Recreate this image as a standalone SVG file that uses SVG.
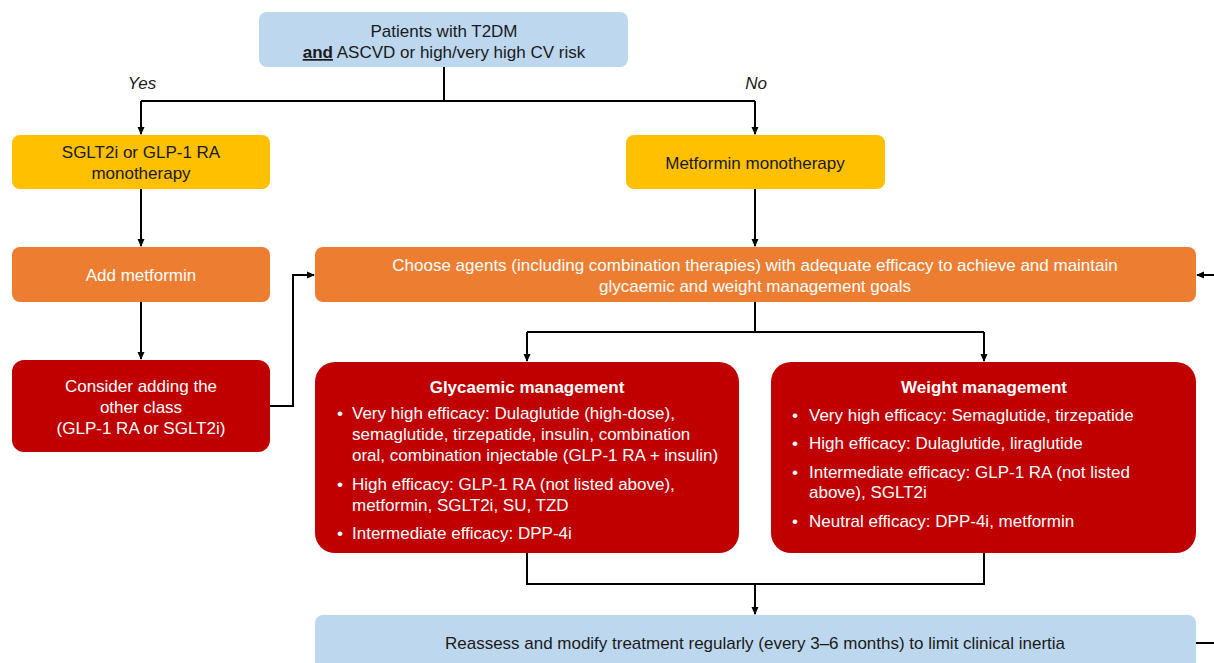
<svg xmlns="http://www.w3.org/2000/svg" width="1214" height="663" viewBox="0 0 1214 663">
<defs>
<marker id="ah" markerWidth="8" markerHeight="8" refX="7" refY="4" orient="auto" markerUnits="userSpaceOnUse">
<path d="M0,0.5 L8,4 L0,7.5 Z" fill="#000"/>
</marker>
<style>
text{font-family:"Liberation Sans",Arial,sans-serif;font-size:17px}
.c{text-anchor:middle}
.w{fill:#fff}
.k{fill:#1a1a1a}
.b{font-weight:bold}
.blue{fill:#BDD7EE}
.yel{fill:#FFC000}
.org{fill:#ED7D31}
.red{fill:#C00000}
.ln{fill:none;stroke:#000;stroke-width:2}
.la{fill:none;stroke:#000;stroke-width:2;marker-end:url(#ah)}
</style>
</defs>
<g id="connectors">
<path class="ln" d="M444,67 V101 M141,101 H755"/>
<path class="la" d="M141,101 V134"/>
<path class="la" d="M755,101 V134"/>
<path class="la" d="M141,189 V246"/>
<path class="la" d="M141,302 V359"/>
<path class="la" d="M755,189 V246"/>
<path class="la" d="M270,406 H293 V275 H314"/>
<path class="la" d="M1214,275 H1197"/>
<path class="ln" d="M755,302 V332 M527,332 H984"/>
<path class="la" d="M527,332 V361"/>
<path class="la" d="M984,332 V361"/>
<path class="ln" d="M527,553 V584 H984 V553"/>
<path class="la" d="M755,584 V614"/>
<path class="ln" d="M1196,643 H1214"/>
<text x="142" y="89" class="c k" font-style="italic">Yes</text>
<text x="756" y="89" class="c k" font-style="italic">No</text>
</g>
<g id="start">
<rect x="259" y="12" width="369" height="55" rx="8" class="blue"/>
<text x="444" y="37" class="c k">Patients with T2DM</text>
<text x="444" y="58" class="c k"><tspan class="b" text-decoration="underline">and</tspan> ASCVD or high/very high CV risk</text>
</g>
<g id="sglt2">
<rect x="12" y="135" width="258" height="54" rx="8" class="yel"/>
<text x="141" y="158" class="c k">SGLT2i or GLP-1 RA</text>
<text x="141" y="179" class="c k">monotherapy</text>
</g>
<g id="metmono">
<rect x="626" y="135" width="259" height="54" rx="8" class="yel"/>
<text x="755" y="169" class="c k">Metformin monotherapy</text>
</g>
<g id="addmet">
<rect x="12" y="247" width="258" height="55" rx="8" class="org"/>
<text x="141" y="281" class="c w">Add metformin</text>
</g>
<g id="consider">
<rect x="12" y="360" width="258" height="92" rx="12" class="red"/>
<text x="141" y="392" class="c w">Consider adding the</text>
<text x="141" y="413" class="c w">other class</text>
<text x="141" y="434" class="c w">(GLP-1 RA or SGLT2i)</text>
</g>
<g id="choose">
<rect x="315" y="247" width="881" height="55" rx="8" class="org"/>
<text x="755" y="271" class="c w">Choose agents (including combination therapies) with adequate efficacy to achieve and maintain</text>
<text x="755" y="292" class="c w">glycaemic and weight management goals</text>
</g>
<g id="glycaemic">
<rect x="315" y="362" width="424" height="191" rx="20" class="red"/>
<text x="527" y="393" class="c w b">Glycaemic management</text>
<text x="337" y="419" class="w">•</text>
<text x="352" y="419" class="w">Very high efficacy: Dulaglutide (high-dose),</text>
<text x="352" y="440" class="w">semaglutide, tirzepatide, insulin, combination</text>
<text x="352" y="461" class="w">oral, combination injectable (GLP-1 RA + insulin)</text>
<text x="337" y="490" class="w">•</text>
<text x="352" y="490" class="w">High efficacy: GLP-1 RA (not listed above),</text>
<text x="352" y="511" class="w">metformin, SGLT2i, SU, TZD</text>
<text x="337" y="539" class="w">•</text>
<text x="352" y="539" class="w">Intermediate efficacy: DPP-4i</text>
</g>
<g id="weight">
<rect x="771" y="362" width="425" height="191" rx="20" class="red"/>
<text x="984" y="393" class="c w b">Weight management</text>
<text x="792" y="421" class="w">•</text>
<text x="809" y="421" class="w">Very high efficacy: Semaglutide, tirzepatide</text>
<text x="792" y="449" class="w">•</text>
<text x="809" y="449" class="w">High efficacy: Dulaglutide, liraglutide</text>
<text x="792" y="478" class="w">•</text>
<text x="809" y="478" class="w">Intermediate efficacy: GLP-1 RA (not listed</text>
<text x="809" y="498" class="w">above), SGLT2i</text>
<text x="792" y="527" class="w">•</text>
<text x="809" y="527" class="w">Neutral efficacy: DPP-4i, metformin</text>
</g>
<g id="reassess">
<rect x="315" y="615" width="881" height="70" rx="8" class="blue"/>
<text x="755" y="649" class="c k" textLength="620" lengthAdjust="spacingAndGlyphs">Reassess and modify treatment regularly (every 3–6 months) to limit clinical inertia</text>
</g>
</svg>
